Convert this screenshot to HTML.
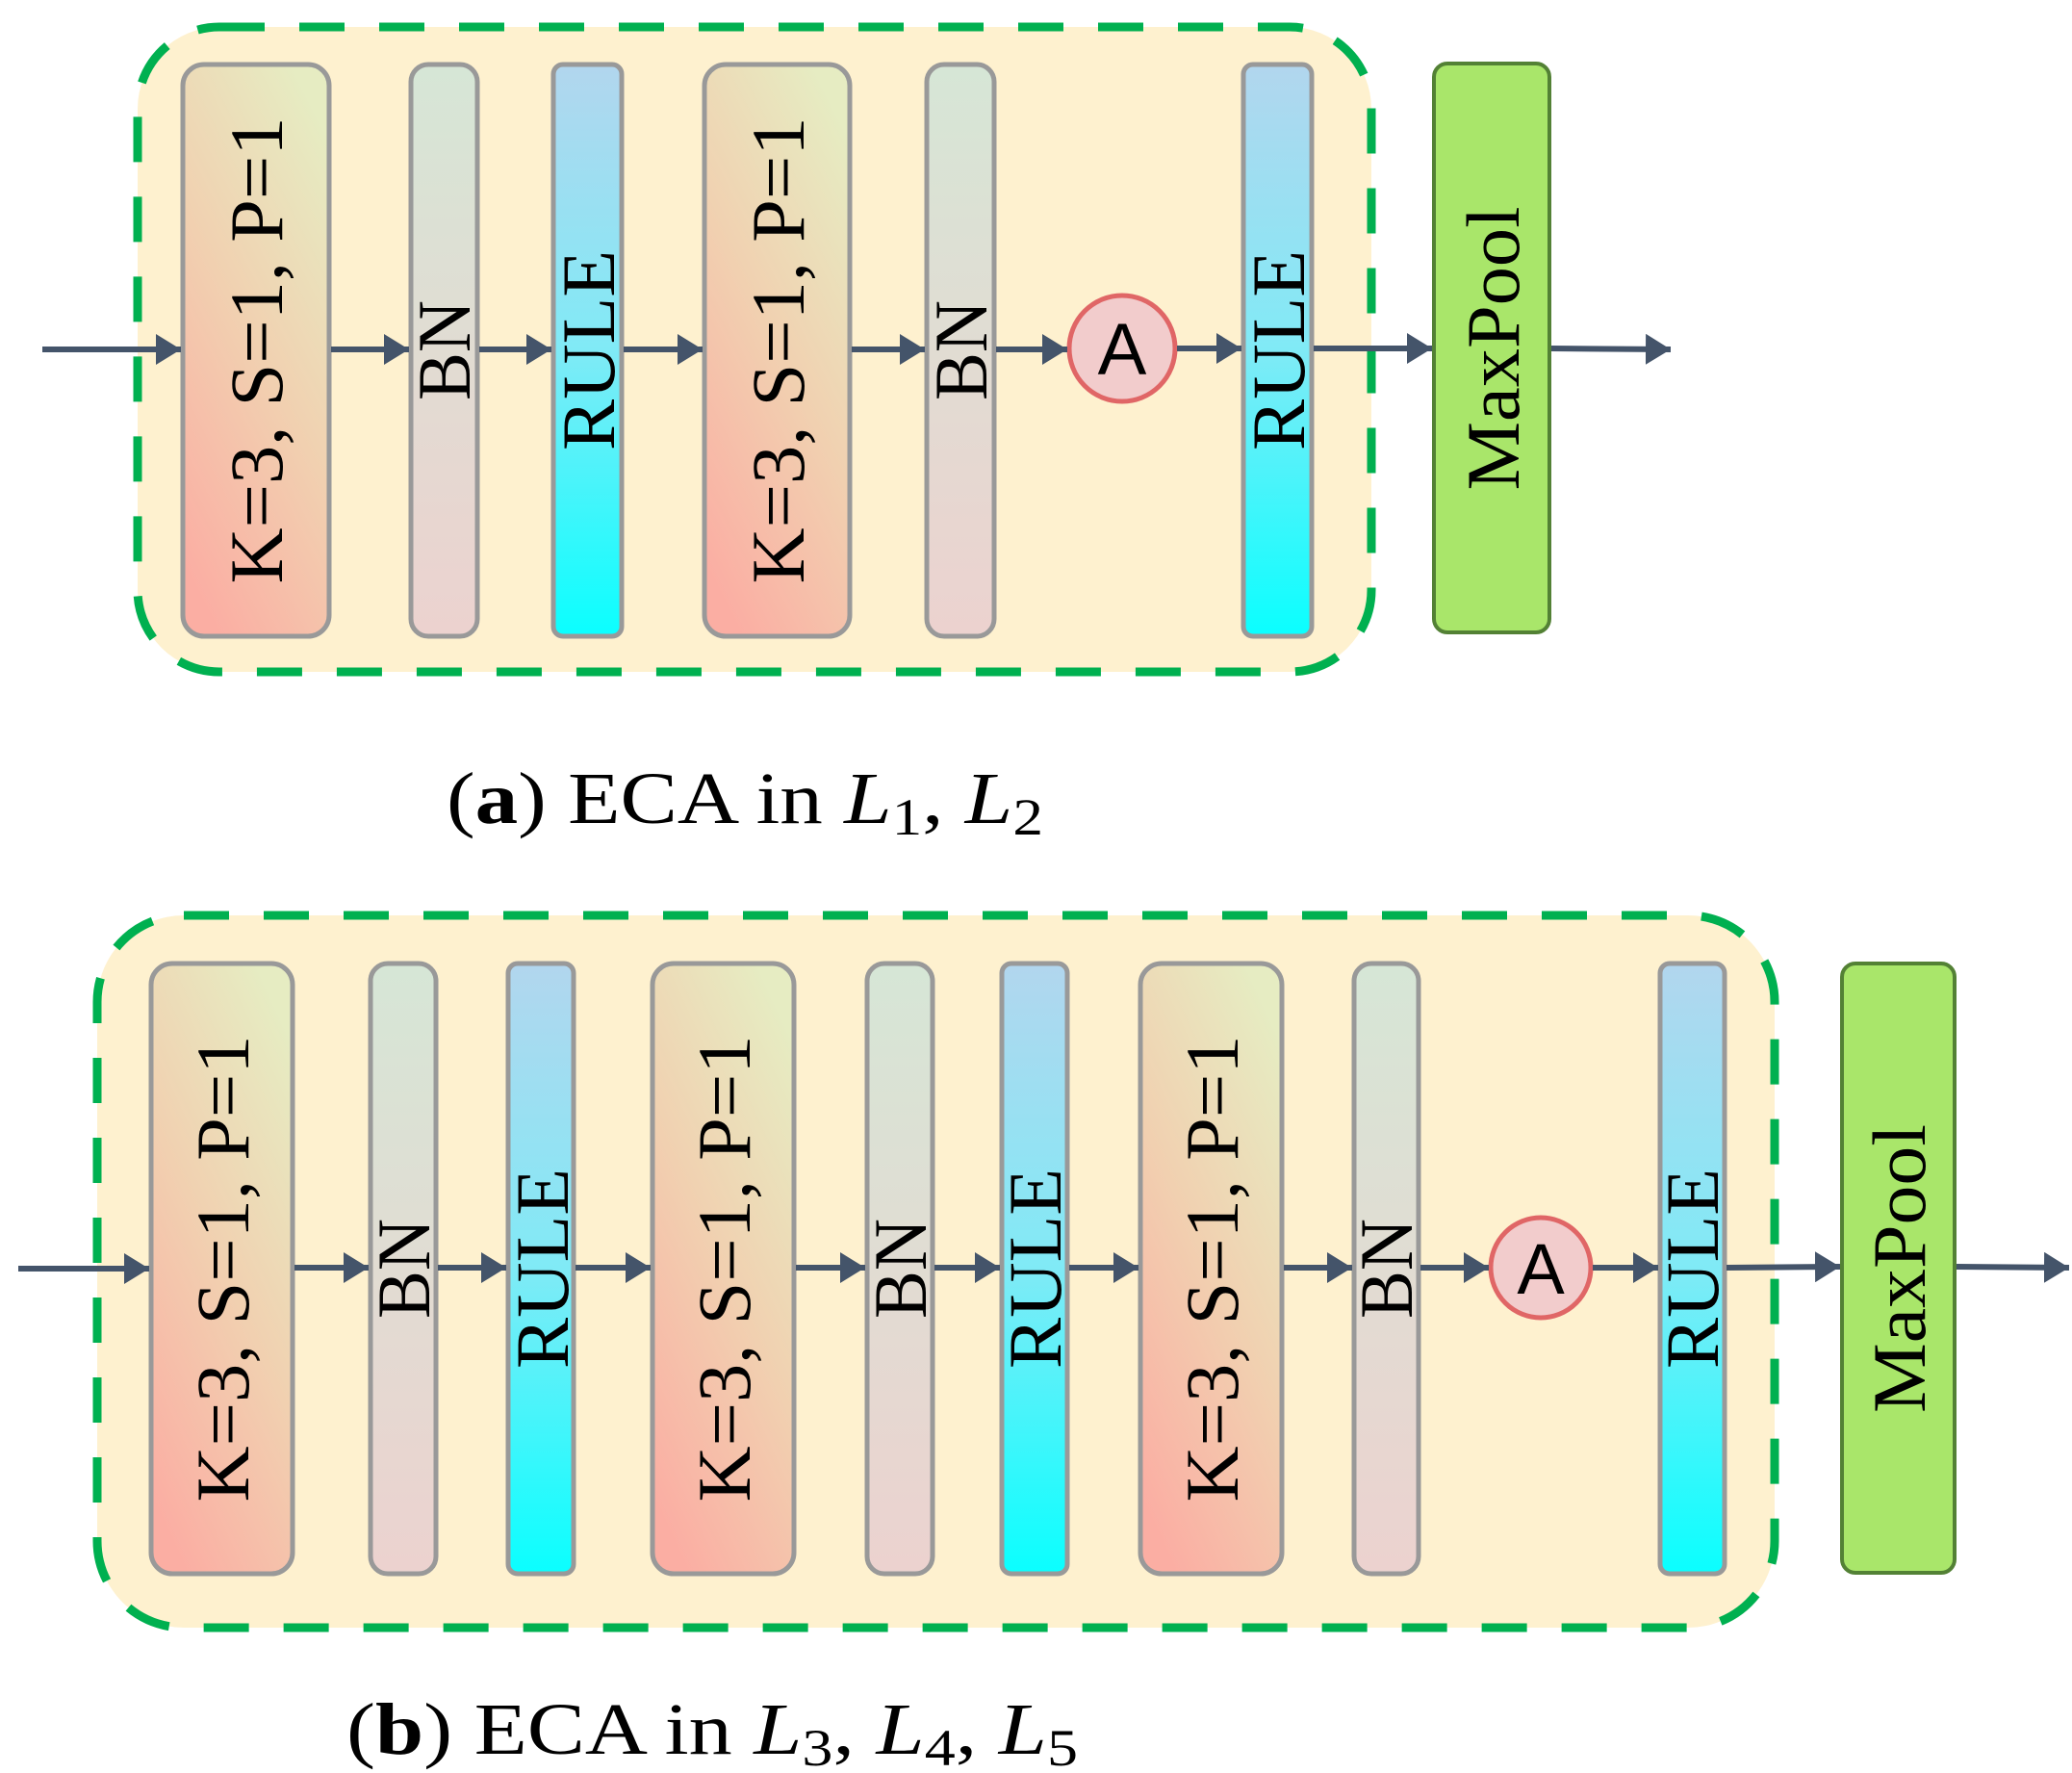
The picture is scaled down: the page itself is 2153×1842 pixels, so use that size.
<!DOCTYPE html>
<html><head><meta charset="utf-8"><style>html,body{margin:0;padding:0;background:#fff}svg{display:block}</style></head>
<body>
<svg width="2153" height="1842" viewBox="0 0 2153 1842" xmlns="http://www.w3.org/2000/svg">
<defs>
<linearGradient id="gc" x1="0.75" y1="0" x2="0.25" y2="1"><stop offset="0" stop-color="#e6ecc2"/><stop offset="0.5" stop-color="#f1d0b0"/><stop offset="1" stop-color="#fbaea3"/></linearGradient>
<linearGradient id="gb" x1="0" y1="0" x2="0" y2="1"><stop offset="0" stop-color="#d6e6d6"/><stop offset="1" stop-color="#ecd2cf"/></linearGradient>
<linearGradient id="gr" x1="0" y1="0" x2="0" y2="1"><stop offset="0" stop-color="#b2d6ee"/><stop offset="0.5" stop-color="#80eaf6"/><stop offset="1" stop-color="#0affff"/></linearGradient>
<marker id="ah" markerUnits="userSpaceOnUse" markerWidth="28" markerHeight="32" refX="26" refY="16" orient="auto"><path d="M0,0 L26,16 L0,32 z" fill="#44546a"/></marker>
</defs>

<!-- (a) -->
<rect x="143" y="28" width="1282" height="670" rx="85" fill="#fef1cf" stroke="#00b050" stroke-width="9" stroke-dasharray="47 36"/>
<g stroke="#999" stroke-width="5">
<rect x="190" y="67" width="152" height="594" rx="22" fill="url(#gc)"/>
<rect x="427" y="67" width="69" height="594" rx="18" fill="url(#gb)"/>
<rect x="575" y="67" width="71" height="594" rx="10" fill="url(#gr)"/>
<rect x="732" y="67" width="151" height="594" rx="22" fill="url(#gc)"/>
<rect x="963" y="67" width="70" height="594" rx="18" fill="url(#gb)"/>
<rect x="1292" y="67" width="71" height="594" rx="10" fill="url(#gr)"/>
</g>
<circle cx="1166" cy="362" r="55" fill="#f2cccc" stroke="#e06666" stroke-width="5"/>
<rect x="1490" y="66" width="120" height="591" rx="14" fill="#a9e66a" stroke="#538135" stroke-width="4"/>

<g stroke="#44546a" stroke-width="6" fill="none">
<line x1="44" y1="363" x2="188" y2="363" marker-end="url(#ah)"/>
<line x1="344" y1="363" x2="425" y2="363" marker-end="url(#ah)"/>
<line x1="498" y1="363" x2="573" y2="363" marker-end="url(#ah)"/>
<line x1="648" y1="363" x2="730" y2="363" marker-end="url(#ah)"/>
<line x1="885" y1="363" x2="961" y2="363" marker-end="url(#ah)"/>
<line x1="1035" y1="363" x2="1109" y2="363" marker-end="url(#ah)"/>
<line x1="1223" y1="362" x2="1290" y2="362" marker-end="url(#ah)"/>
<line x1="1365" y1="362" x2="1488" y2="362" marker-end="url(#ah)"/>
<line x1="1612" y1="362" x2="1736" y2="363" marker-end="url(#ah)"/>
</g>

<g font-family="Liberation Serif, serif" fill="#000" font-size="78" text-anchor="middle">
<text transform="translate(293,364) rotate(-90)" textLength="485" lengthAdjust="spacingAndGlyphs">K=3, S=1, P=1</text>
<text transform="translate(488,364) rotate(-90)" textLength="104" lengthAdjust="spacingAndGlyphs">BN</text>
<text transform="translate(638,364) rotate(-90)" textLength="208" lengthAdjust="spacingAndGlyphs">RULE</text>
<text transform="translate(835,364) rotate(-90)" textLength="485" lengthAdjust="spacingAndGlyphs">K=3, S=1, P=1</text>
<text transform="translate(1025,364) rotate(-90)" textLength="104" lengthAdjust="spacingAndGlyphs">BN</text>
<text transform="translate(1355,364) rotate(-90)" textLength="208" lengthAdjust="spacingAndGlyphs">RULE</text>
<text transform="translate(1578,362) rotate(-90)" textLength="295" lengthAdjust="spacingAndGlyphs">MaxPool</text>
</g>
<text x="1166" y="389" font-family="Liberation Sans, sans-serif" font-size="76" text-anchor="middle">A</text>

<text font-family="Liberation Serif, serif" x="464" y="855" font-size="76" textLength="620" lengthAdjust="spacingAndGlyphs">(<tspan font-weight="bold">a</tspan>) ECA in <tspan font-style="italic">L</tspan><tspan font-size="54" dy="12">1</tspan><tspan dy="-12">, </tspan><tspan font-style="italic">L</tspan><tspan font-size="54" dy="12">2</tspan></text>

<!-- (b) -->
<rect x="101" y="951" width="1743" height="740" rx="90" fill="#fef1cf" stroke="#00b050" stroke-width="9" stroke-dasharray="47 36"/>
<g stroke="#999" stroke-width="5">
<rect x="157" y="1001" width="147" height="634" rx="22" fill="url(#gc)"/>
<rect x="385" y="1001" width="68" height="634" rx="18" fill="url(#gb)"/>
<rect x="528" y="1001" width="68" height="634" rx="10" fill="url(#gr)"/>
<rect x="678" y="1001" width="147" height="634" rx="22" fill="url(#gc)"/>
<rect x="901" y="1001" width="68" height="634" rx="18" fill="url(#gb)"/>
<rect x="1041" y="1001" width="68" height="634" rx="10" fill="url(#gr)"/>
<rect x="1185" y="1001" width="147" height="634" rx="22" fill="url(#gc)"/>
<rect x="1407" y="1001" width="67" height="634" rx="18" fill="url(#gb)"/>
<rect x="1725" y="1001" width="67" height="634" rx="10" fill="url(#gr)"/>
</g>
<circle cx="1601" cy="1317" r="52" fill="#f2cccc" stroke="#e06666" stroke-width="5"/>
<rect x="1914" y="1001" width="117" height="633" rx="14" fill="#a9e66a" stroke="#538135" stroke-width="4"/>

<g stroke="#44546a" stroke-width="6" fill="none">
<line x1="19" y1="1318" x2="155" y2="1318" marker-end="url(#ah)"/>
<line x1="306" y1="1317" x2="383" y2="1317" marker-end="url(#ah)"/>
<line x1="455" y1="1317" x2="526" y2="1317" marker-end="url(#ah)"/>
<line x1="598" y1="1317" x2="676" y2="1317" marker-end="url(#ah)"/>
<line x1="827" y1="1317" x2="899" y2="1317" marker-end="url(#ah)"/>
<line x1="971" y1="1317" x2="1039" y2="1317" marker-end="url(#ah)"/>
<line x1="1111" y1="1317" x2="1183" y2="1317" marker-end="url(#ah)"/>
<line x1="1334" y1="1317" x2="1405" y2="1317" marker-end="url(#ah)"/>
<line x1="1476" y1="1317" x2="1547" y2="1317" marker-end="url(#ah)"/>
<line x1="1655" y1="1317" x2="1723" y2="1317" marker-end="url(#ah)"/>
<line x1="1794" y1="1317" x2="1912" y2="1316" marker-end="url(#ah)"/>
<line x1="2033" y1="1316" x2="2150" y2="1317" marker-end="url(#ah)"/>
</g>

<g font-family="Liberation Serif, serif" fill="#000" font-size="78" text-anchor="middle">
<text transform="translate(258,1318) rotate(-90)" textLength="485" lengthAdjust="spacingAndGlyphs">K=3, S=1, P=1</text>
<text transform="translate(446,1318) rotate(-90)" textLength="104" lengthAdjust="spacingAndGlyphs">BN</text>
<text transform="translate(590,1318) rotate(-90)" textLength="208" lengthAdjust="spacingAndGlyphs">RULE</text>
<text transform="translate(779,1318) rotate(-90)" textLength="485" lengthAdjust="spacingAndGlyphs">K=3, S=1, P=1</text>
<text transform="translate(962,1318) rotate(-90)" textLength="104" lengthAdjust="spacingAndGlyphs">BN</text>
<text transform="translate(1102,1318) rotate(-90)" textLength="208" lengthAdjust="spacingAndGlyphs">RULE</text>
<text transform="translate(1286,1318) rotate(-90)" textLength="485" lengthAdjust="spacingAndGlyphs">K=3, S=1, P=1</text>
<text transform="translate(1467,1318) rotate(-90)" textLength="104" lengthAdjust="spacingAndGlyphs">BN</text>
<text transform="translate(1785,1318) rotate(-90)" textLength="208" lengthAdjust="spacingAndGlyphs">RULE</text>
<text transform="translate(2000,1318) rotate(-90)" textLength="300" lengthAdjust="spacingAndGlyphs">MaxPool</text>
</g>
<text x="1601" y="1344" font-family="Liberation Sans, sans-serif" font-size="74" text-anchor="middle">A</text>

<text font-family="Liberation Serif, serif" x="360" y="1822" font-size="76" textLength="760" lengthAdjust="spacingAndGlyphs">(<tspan font-weight="bold">b</tspan>) ECA in <tspan font-style="italic">L</tspan><tspan font-size="54" dy="12">3</tspan><tspan dy="-12">, </tspan><tspan font-style="italic">L</tspan><tspan font-size="54" dy="12">4</tspan><tspan dy="-12">, </tspan><tspan font-style="italic">L</tspan><tspan font-size="54" dy="12">5</tspan></text>
</svg>
</body></html>
